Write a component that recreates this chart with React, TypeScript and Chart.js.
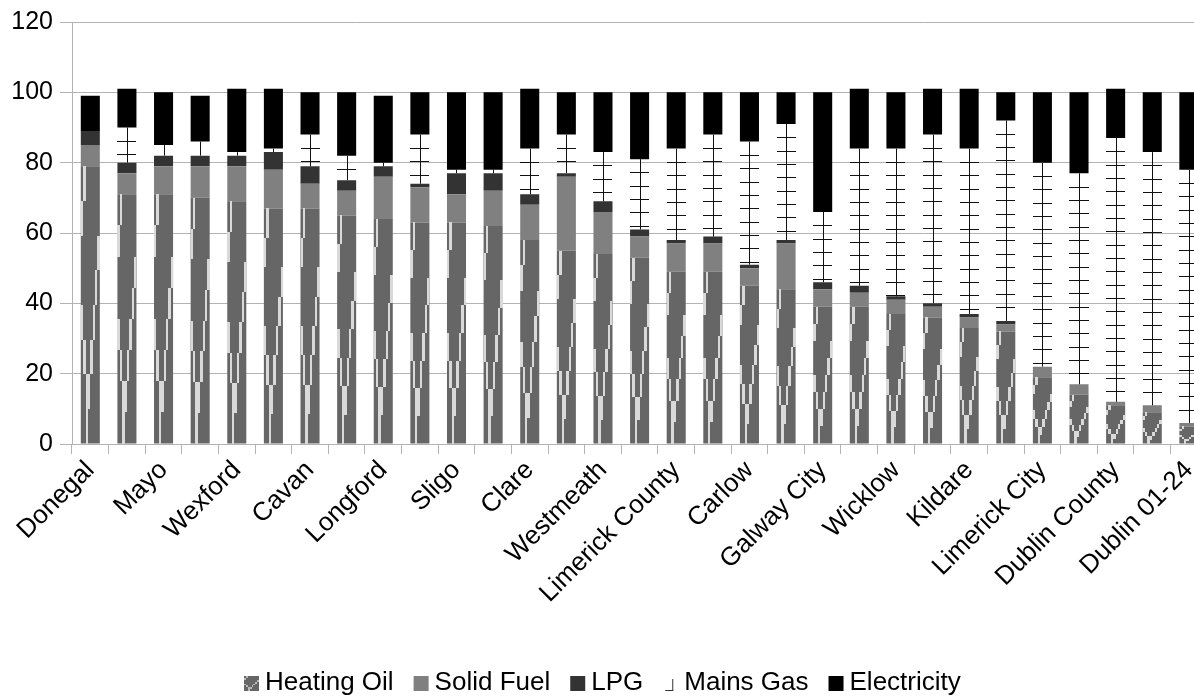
import React, { useEffect, useRef } from "react";
import { Chart, registerables } from "chart.js";

Chart.register(...registerables);

const FONT = '"Liberation Sans", Arial, Helvetica, sans-serif';

// Share of households (%) by main heating fuel, per area
const categories = [
  "Donegal", "Roscommon", "Mayo", "Leitrim", "Wexford", "Kerry", "Cavan", "Monaghan",
  "Longford", "Tipperary", "Sligo", "Offaly", "Clare", "Laois", "Westmeath", "Kilkenny",
  "Limerick County", "Galway County", "Carlow", "Louth", "Galway City", "Waterford County",
  "Wicklow", "Meath", "Kildare", "Cork County", "Limerick City", "Cork City",
  "Dublin County", "Dún Laoghaire-Rathdown", "Dublin 01-24",
];

const seriesNames = ["Heating Oil", "Solid Fuel", "LPG", "Mains Gas", "Electricity"];

const heatingOil = [79, 71, 71, 70, 69, 67, 67, 65, 64, 63, 63, 62, 58, 55, 54, 53, 49, 49, 45, 44, 39, 39, 37, 36, 33, 32, 19, 14, 11, 9, 5];
const solidFuel = [6, 6, 8, 9, 10, 11, 7, 7, 12, 10, 8, 10, 10, 21, 12, 6, 8, 8, 5, 13, 5, 4, 4, 3, 3, 2, 3, 3, 1, 2, 1];
const lpg = [4, 3, 3, 3, 3, 5, 5, 3, 3, 1, 6, 5, 3, 1, 3, 2, 1, 2, 1, 1, 2, 2, 1, 1, 1, 1, 0, 0, 0, 0, 0];
const mainsGas = [0, 10, 3, 4, 1, 1, 9, 7, 1, 14, 1, 1, 13, 11, 14, 20, 26, 29, 35, 33, 20, 39, 42, 48, 47, 57, 58, 60, 75, 72, 72];
const electricity = [10, 11, 15, 13, 18, 17, 12, 18, 19, 12, 22, 22, 17, 12, 17, 19, 16, 12, 14, 9, 34, 17, 16, 13, 17, 8, 20, 23, 14, 17, 22];

const yMin = 0;
const yMax = 120;
const yStep = 20;

const VIEW_W = 1194;
const VIEW_H = 696;
const CANVAS_W = 1212;
const LEGEND_CENTER_X = 602;

const COLORS = {
  oil: "#666666",
  oilLight: "#d9d9d9",
  solid: "#808080",
  lpg: "#333333",
  gasLine: "#111111",
  elec: "#000000",
  grid: "#b3b3b3",
};

// Small check-mark bitmap, stretched over each heating-oil bar
const CHECK = [
  "01000000",
  "10000000",
  "00000001",
  "00000010",
  "10000100",
  "01001000",
  "00110000",
  "00100000",
];

function drawCheck(ctx: CanvasRenderingContext2D, left: number, top: number, w: number, h: number) {
  const rows = CHECK.length;
  const cols = CHECK[0].length;
  for (let r = 0; r < rows; r++) {
    const y0 = Math.round(top + (r * h) / rows);
    const y1 = Math.round(top + ((r + 1) * h) / rows);
    if (y1 <= y0) continue;
    for (let c = 0; c < cols; c++) {
      if (CHECK[r][c] !== "1") continue;
      const x0 = Math.round(left + (c * w) / cols);
      const x1 = Math.round(left + ((c + 1) * w) / cols);
      ctx.fillRect(x0, y0, Math.max(1, x1 - x0), y1 - y0);
    }
  }
}

// Fill decorations: light check strokes on heating oil, stem-and-rung hatch on mains gas
const fillDecor = {
  id: "fillDecor",
  afterDatasetsDraw(chart: any) {
    const ctx: CanvasRenderingContext2D = chart.ctx;
    ctx.save();
    const area = chart.chartArea;
    ctx.beginPath();
    ctx.rect(area.left, area.top, area.right - area.left, area.bottom - area.top);
    ctx.clip();

    ctx.fillStyle = COLORS.oilLight;
    chart.getDatasetMeta(0).data.forEach((el: any) => {
      const p = el.getProps(["x", "y", "base", "width"], true);
      const top = Math.min(p.y, p.base);
      const bottom = Math.max(p.y, p.base);
      if (bottom - top < 1) return;
      drawCheck(ctx, p.x - p.width / 2, top, p.width, bottom - top);
    });

    ctx.strokeStyle = COLORS.gasLine;
    ctx.lineWidth = 1;
    const rung = 13.33;
    chart.getDatasetMeta(3).data.forEach((el: any) => {
      const p = el.getProps(["x", "y", "base", "width"], true);
      const top = Math.min(p.y, p.base);
      const bottom = Math.max(p.y, p.base);
      if (bottom - top < 1) return;
      const cx = Math.round(p.x) + 0.5;
      ctx.beginPath();
      ctx.moveTo(cx, top);
      ctx.lineTo(cx, bottom);
      ctx.stroke();
      const left = Math.round(p.x - p.width / 2);
      const right = Math.round(p.x + p.width / 2);
      for (let ty = top + rung; ty < bottom - 1; ty += rung) {
        const yy = Math.round(ty) + 0.5;
        ctx.beginPath();
        ctx.moveTo(left, yy);
        ctx.lineTo(right, yy);
        ctx.stroke();
      }
    });
    ctx.restore();
  },
};

// Legend row centred under the chart
const bottomLegend = {
  id: "bottomLegend",
  afterDraw(chart: any) {
    const ctx: CanvasRenderingContext2D = chart.ctx;
    ctx.save();
    ctx.font = `26px ${FONT}`;
    ctx.textBaseline = "middle";
    ctx.textAlign = "left";
    const icon = 15;
    const gapIconText = 6;
    const gapItems = 20;
    const widths = seriesNames.map((n) => ctx.measureText(n).width);
    const total =
      widths.reduce((a, b) => a + b, 0) +
      seriesNames.length * (icon + gapIconText) +
      (seriesNames.length - 1) * gapItems;
    let x = Math.round(LEGEND_CENTER_X - total / 2);
    const cy = 683;
    const iconTop = Math.round(cy - icon / 2);
    seriesNames.forEach((name, i) => {
      if (i === 0) {
        ctx.fillStyle = COLORS.oil;
        ctx.fillRect(x, iconTop, icon, icon);
        ctx.fillStyle = "#b8b8b8";
        drawCheck(ctx, x, iconTop, icon, icon);
      } else if (i === 1) {
        ctx.fillStyle = COLORS.solid;
        ctx.fillRect(x, iconTop, icon, icon);
      } else if (i === 2) {
        ctx.fillStyle = COLORS.lpg;
        ctx.fillRect(x, iconTop, icon, icon);
      } else if (i === 3) {
        ctx.strokeStyle = "#333333";
        ctx.lineWidth = 1;
        const sx = x + 9.5;
        ctx.beginPath();
        ctx.moveTo(sx, iconTop + 3);
        ctx.lineTo(sx, iconTop + icon);
        ctx.moveTo(x + 2, iconTop + icon - 0.5);
        ctx.lineTo(sx + 0.5, iconTop + icon - 0.5);
        ctx.stroke();
      } else {
        ctx.fillStyle = COLORS.elec;
        ctx.fillRect(x, iconTop, icon, icon);
      }
      x += icon + gapIconText;
      ctx.fillStyle = "#000000";
      ctx.fillText(name, x, cy);
      x += widths[i] + gapItems;
    });
    ctx.restore();
  },
};

export default function App() {
  const canvasRef = useRef<HTMLCanvasElement>(null);

  useEffect(() => {
    const canvas = canvasRef.current;
    if (!canvas) return;
    const barCommon = { categoryPercentage: 1, barPercentage: 0.52, borderWidth: 0 };
    const chart = new Chart(canvas, {
      type: "bar",
      data: {
        labels: categories,
        datasets: [
          { label: seriesNames[0], data: heatingOil, backgroundColor: COLORS.oil, ...barCommon },
          { label: seriesNames[1], data: solidFuel, backgroundColor: COLORS.solid, ...barCommon },
          { label: seriesNames[2], data: lpg, backgroundColor: COLORS.lpg, ...barCommon },
          { label: seriesNames[3], data: mainsGas, backgroundColor: "rgba(0,0,0,0)", ...barCommon },
          { label: seriesNames[4], data: electricity, backgroundColor: COLORS.elec, ...barCommon },
        ],
      },
      options: {
        responsive: false,
        animation: false,
        devicePixelRatio: 1,
        layout: { padding: { top: 22, right: 4, left: 0, bottom: 0 } },
        plugins: {
          legend: { display: false },
          tooltip: { enabled: false },
        },
        scales: {
          x: {
            stacked: true,
            grid: {
              display: true,
              drawOnChartArea: false,
              drawTicks: true,
              tickLength: 10,
              color: COLORS.grid,
              offset: true,
            },
            border: { display: true, color: COLORS.grid },
            ticks: {
              autoSkip: false,
              minRotation: 45,
              maxRotation: 45,
              padding: 1,
              color: "#000000",
              font: { family: FONT, size: 26 },
              callback: (_v: any, i: number) => (i % 2 === 0 ? categories[i] : ""),
            },
            afterFit: (s: any) => {
              s.height = VIEW_H - 444;
            },
          },
          y: {
            stacked: true,
            min: yMin,
            max: yMax,
            ticks: {
              stepSize: yStep,
              padding: 7,
              color: "#000000",
              font: { family: FONT, size: 25 },
            },
            grid: { color: COLORS.grid, tickLength: 12 },
            border: { display: true, color: COLORS.grid },
            afterFit: (s: any) => {
              s.width = 72;
            },
          },
        },
      } as any,
      plugins: [fillDecor, bottomLegend],
    });
    return () => chart.destroy();
  }, []);

  return (
    <div
      style={{
        position: "fixed",
        left: 0,
        top: 0,
        width: VIEW_W,
        height: VIEW_H,
        overflow: "hidden",
        background: "#ffffff",
      }}
    >
      <canvas
        ref={canvasRef}
        width={CANVAS_W}
        height={VIEW_H}
        style={{ display: "block", width: CANVAS_W, height: VIEW_H }}
      />
    </div>
  );
}
